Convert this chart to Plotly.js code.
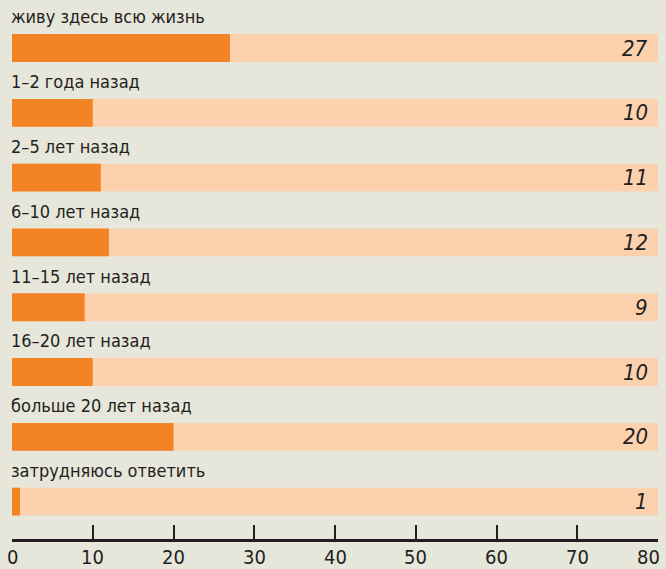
<!DOCTYPE html>
<html>
<head>
<meta charset="utf-8">
<script src="https://cdn.plot.ly/plotly-3.0.1.min.js"></script>
<style>html,body{margin:0;padding:0;background:#e7e6db;}</style>
</head>
<body>
<div id="chart" style="width:666px;height:569px;"></div>
<script>
const categories = ["живу здесь всю жизнь","1–2 года назад","2–5 лет назад","6–10 лет назад","11–15 лет назад","16–20 лет назад","больше 20 лет назад","затрудняюсь ответить"];
const values = [27,10,11,12,9,10,20,1];
const maxValue = 80;
const tickVals = [0,10,20,30,40,50,60,70,80];

const pos = categories.map((c,i)=>i);
const labelFont = "'DejaVu Sans Condensed', 'Liberation Sans', sans-serif";
const numFont = "'DejaVu Sans Condensed', 'Liberation Sans', sans-serif";
const ink = '#231f20';

const traces = [
  {type:'bar', orientation:'h', y:pos, x:categories.map(()=>maxValue), marker:{color:'#fcd2ae'}, width:0.43, hoverinfo:'skip'},
  {type:'bar', orientation:'h', y:pos, x:values, marker:{color:'#f48326'}, width:0.43, hoverinfo:'skip'}
];

const annotations = [];
categories.forEach((c,i)=>{
  annotations.push({x:0, xref:'paper', y:i-0.48, yref:'y', text:c, showarrow:false, xanchor:'left', yanchor:'middle', xshift:-3,
    font:{family:labelFont, size:18, color:ink}});
  annotations.push({x:maxValue, xref:'x', y:i, yref:'y', text:'<i>'+values[i]+'</i>', showarrow:false, xanchor:'right', yanchor:'middle', xshift:-8,
    font:{family:numFont, size:22, color:ink}});
});
tickVals.forEach((t,i)=>{
  const last = i === tickVals.length-1;
  annotations.push({x:t, xref:'x', y:0, yref:'paper', yshift:-4, text:String(t), showarrow:false,
    xanchor: last ? 'right' : 'center', xshift: last ? 4 : 0, yanchor:'top',
    font:{family:numFont, size:20, color:ink}});
});

const layout = {
  width:666, height:569,
  margin:{l:11.5, r:8, t:0, b:30},
  paper_bgcolor:'#e7e6db', plot_bgcolor:'#e7e6db',
  barmode:'overlay', showlegend:false,
  xaxis:{range:[0,maxValue], tickvals:tickVals, ticks:'inside', ticklen:14, tickwidth:2, tickcolor:ink,
    showticklabels:false, showline:true, linewidth:3, linecolor:ink, showgrid:false, zeroline:false, fixedrange:true},
  yaxis:{range:[7.577,-0.741], showticklabels:false, showgrid:false, zeroline:false, showline:false, ticks:'', fixedrange:true},
  annotations:annotations
};
Plotly.newPlot('chart', traces, layout, {displayModeBar:false, staticPlot:true});
</script>
</body>
</html>
